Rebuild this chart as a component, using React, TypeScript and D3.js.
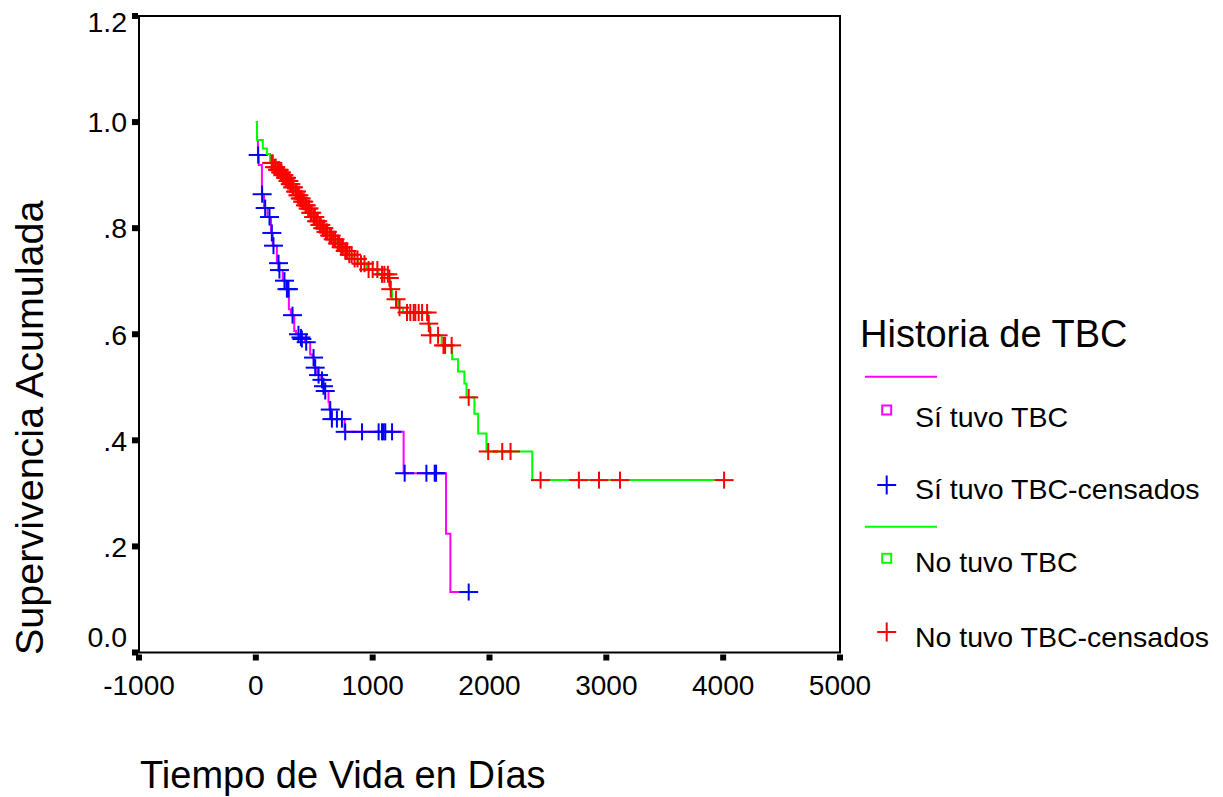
import React from "react";
import * as d3 from "d3";

// ---- Data ----
const xTicks = [-1000, 0, 1000, 2000, 3000, 4000, 5000];
const yTicks = [0, 0.2, 0.4, 0.6, 0.8, 1.0, 1.2];
const yTickLabels = ["0.0", ".2", ".4", ".6", ".8", "1.0", "1.2"];

// Sí tuvo TBC: event times and survival after event
const siEventTimes = [10, 18, 25, 52, 70, 100, 130, 145, 180, 198, 230, 260, 283, 300, 329, 345, 380, 390, 420, 465, 485, 500, 525, 560, 575, 590, 622, 630, 645, 760, 1265, 1628, 1665];
const siEventSurv = [0.966, 0.938, 0.919, 0.864, 0.838, 0.821, 0.791, 0.767, 0.734, 0.721, 0.701, 0.685, 0.647, 0.636, 0.606, 0.6, 0.594, 0.591, 0.585, 0.562, 0.556, 0.537, 0.523, 0.514, 0.502, 0.493, 0.472, 0.458, 0.44, 0.416, 0.338, 0.224, 0.114];
const siCensorTimes = [20, 54, 80, 117, 137, 151, 194, 202, 245, 266, 279, 314, 365, 386, 394, 431, 494, 508, 537, 566, 579, 594, 637, 651, 694, 737, 765, 909, 1051, 1080, 1094, 1108, 1166, 1274, 1460, 1531, 1543, 1822];

// No tuvo TBC
const noEventTimes = [10, 60, 94, 122, 150, 180, 205, 225, 250, 270, 290, 310, 335, 355, 375, 395, 420, 440, 465, 490, 515, 540, 565, 595, 625, 655, 690, 720, 755, 790, 830, 880, 950, 1050, 1140, 1148, 1166, 1217, 1260, 1475, 1490, 1590, 1680, 1731, 1785, 1803, 1871, 1903, 1974, 2366];
const noEventSurv = [0.966, 0.95, 0.94, 0.923, 0.915, 0.91, 0.905, 0.9, 0.895, 0.889, 0.883, 0.877, 0.869, 0.862, 0.856, 0.85, 0.843, 0.837, 0.829, 0.821, 0.813, 0.806, 0.8, 0.793, 0.786, 0.779, 0.771, 0.764, 0.757, 0.75, 0.742, 0.733, 0.722, 0.713, 0.706, 0.685, 0.666, 0.65, 0.641, 0.62, 0.598, 0.579, 0.553, 0.53, 0.507, 0.481, 0.45, 0.413, 0.379, 0.325];
const noCensorTimes = [135, 145, 160, 170, 185, 195, 200, 212, 220, 232, 240, 255, 262, 275, 283, 295, 300, 315, 322, 340, 348, 360, 368, 380, 388, 400, 410, 425, 432, 448, 455, 470, 478, 495, 505, 520, 530, 548, 556, 572, 582, 600, 612, 632, 645, 662, 678, 700, 712, 730, 745, 765, 780, 800, 820, 845, 870, 900, 930, 965, 1000, 1040, 1080, 1100, 1130, 1143, 1155, 1200, 1230, 1294, 1322, 1351, 1365, 1394, 1423, 1466, 1480, 1494, 1560, 1606, 1620, 1676, 1822, 1989, 2109, 2180, 2437, 2765, 2937, 3117, 4008];

const legendTitle = "Historia de TBC";
const legendItems = ["Sí tuvo TBC", "Sí tuvo TBC-censados", "No tuvo TBC", "No tuvo TBC-censados"];

const FONT = "'Liberation Sans', Arial, Helvetica, sans-serif";
const MAGENTA = "#ff00ff";
const BLUE = "#0000ff";
const GREEN = "#00ff00";
const RED = "#ff0000";

function survAt(times: number[], surv: number[], t: number) {
  let s = 1;
  for (let i = 0; i < times.length; i++) if (times[i] <= t) s = surv[i];
  return s;
}

export default function App() {
  const W = 1223, H = 797;
  const left = 139, right = 840, top = 16, bottom = 652.5;
  const x = d3.scaleLinear().domain([-1000, 5000]).range([left, right]);
  const y = d3.scaleLinear().domain([0, 1.2]).range([bottom, top]);

  const line = d3
    .line<[number, number]>()
    .x((d) => x(d[0]))
    .y((d) => y(d[1]))
    .curve(d3.curveStepAfter);

  const buildPts = (times: number[], surv: number[], censor: number[]) => {
    const pts: [number, number][] = [[0, 1]];
    times.forEach((t, i) => pts.push([t, surv[i]]));
    const lastT = Math.max(censor[censor.length - 1], times[times.length - 1]);
    pts.push([lastT, survAt(times, surv, lastT)]);
    return pts;
  };

  const siPts = buildPts(siEventTimes, siEventSurv, siCensorTimes);
  const noPts = buildPts(noEventTimes, noEventSurv, noCensorTimes);

  const cross = (cx: number, cy: number, color: string, key: string, hw = 9.5, hh = 8.5) => (
    <g key={key} stroke={color} strokeWidth={2}>
      <line x1={cx - hw} x2={cx + hw} y1={cy} y2={cy} />
      <line x1={cx} x2={cx} y1={cy - hh} y2={cy + hh} />
    </g>
  );

  const yLabelShift = (v: number) => (v === 1.2 ? 6 : v === 0 ? -16 : 0);

  const legX = 886.7;
  return (
    <svg width={W} height={H} style={{ position: "absolute", left: 0, top: 0, background: "#fff" }} fontFamily={FONT}>
      <rect x={0} y={0} width={W} height={H} fill="#fff" />
      {/* frame */}
      <rect x={left} y={top} width={right - left} height={bottom - top} fill="none" stroke="#000" strokeWidth={2} />
      {/* y ticks */}
      {yTicks.map((v, i) => (
        <g key={"yt" + i}>
          <rect x={left - 7} y={y(v) - 3} width={6} height={6} fill="#000" />
          <text x={127} y={y(v) + yLabelShift(v)} dy="0.36em" textAnchor="end" fontSize={28.5} fill="#000">
            {yTickLabels[i]}
          </text>
        </g>
      ))}
      {/* x ticks */}
      {xTicks.map((v) => (
        <g key={"xt" + v}>
          <rect x={x(v) - 3} y={bottom + 2} width={6} height={6} fill="#000" />
          <text x={x(v)} y={695} textAnchor="middle" fontSize={28} fill="#000">
            {v}
          </text>
        </g>
      ))}
      {/* axis titles */}
      <text x={140} y={788} fontSize={38} fill="#000">Tiempo de Vida en Días</text>
      <text transform={`translate(43,655) rotate(-90)`} fontSize={39.5} fill="#000">Supervivencia Acumulada</text>

      {/* Sí tuvo TBC */}
      <path d={line(siPts) || ""} fill="none" stroke={MAGENTA} strokeWidth={2} />
      {siCensorTimes.map((t, i) => cross(x(t), y(survAt(siEventTimes, siEventSurv, t)), BLUE, "sc" + i))}
      {/* No tuvo TBC */}
      <path d={line(noPts) || ""} fill="none" stroke={GREEN} strokeWidth={2} />
      {noCensorTimes.map((t, i) => cross(x(t), y(survAt(noEventTimes, noEventSurv, t)), RED, "nc" + i))}

      {/* legend */}
      <text x={860} y={347} fontSize={38} fill="#000">{legendTitle}</text>
      <line x1={865} x2={937} y1={376.7} y2={376.7} stroke={MAGENTA} strokeWidth={2} />
      <rect x={legX - 4.5} y={410 - 4.5} width={9} height={9} fill="none" stroke={MAGENTA} strokeWidth={2} />
      <text x={915} y={427} fontSize={28.5} fill="#000">{legendItems[0]}</text>
      {cross(legX, 485, BLUE, "lb", 9.5, 9.5)}
      <text x={915} y={498.5} fontSize={28.5} fill="#000">{legendItems[1]}</text>
      <line x1={865} x2={937} y1={526.7} y2={526.7} stroke={GREEN} strokeWidth={2} />
      <rect x={legX - 4.5} y={558.3 - 4.5} width={9} height={9} fill="none" stroke={GREEN} strokeWidth={2} />
      <text x={915} y={572} fontSize={28.5} fill="#000">{legendItems[2]}</text>
      {cross(legX, 632, RED, "lr", 9.5, 9.5)}
      <text x={915} y={647} fontSize={28.5} fill="#000">{legendItems[3]}</text>
    </svg>
  );
}
